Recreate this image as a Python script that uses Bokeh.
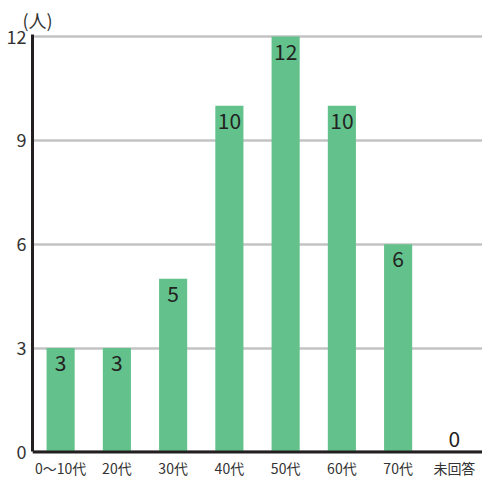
from bokeh.plotting import figure
from bokeh.models import ColumnDataSource, Range1d, FactorRange, Span, FixedTicker
from bokeh.core.properties import value
from bokeh.embed import file_html
from bokeh.resources import INLINE

categories = ["0〜10代", "20代", "30代", "40代", "50代", "60代", "70代以上", "未回答"]
tick_labels = ["0〜10代", "20代", "30代", "40代", "50代", "60代", "70代\n以上", "未回答"]
counts = [3, 3, 5, 10, 12, 10, 6, 0]
y_ticks = [0, 3, 6, 9, 12]

FONT = "Noto Sans CJK JP"
GREEN = "#63c28b"

src = ColumnDataSource(dict(cat=categories, n=counts))
pos = ColumnDataSource(dict(cat=[c for c, v in zip(categories, counts) if v > 0],
                            n=[v for v in counts if v > 0],
                            lbl=[str(v) for v in counts if v > 0]))
zero = ColumnDataSource(dict(cat=[c for c, v in zip(categories, counts) if v == 0],
                             n=[v for v in counts if v == 0],
                             lbl=[str(v) for v in counts if v == 0]))
cat_lbl = ColumnDataSource(dict(cat=categories, y=[0] * len(categories), t=tick_labels))

p = figure(width=482, height=486, x_range=FactorRange(*categories, range_padding=0),
           y_range=Range1d(-1.0, 12.06), output_backend="svg", toolbar_location=None,
           min_border_left=32, min_border_right=0, min_border_top=34, min_border_bottom=0,
           title="(人)")
p.outline_line_color = None
p.background_fill_color = "white"
p.border_fill_color = "white"

p.title.text_font = FONT
p.title.text_font_size = "18px"
p.title.text_font_style = "normal"
p.title.text_color = "#333333"
p.title.align = "left"
p.title.offset = -10
p.title.standoff = 3

p.xgrid.grid_line_color = None
p.ygrid.grid_line_color = "#c3c3c5"
p.ygrid.grid_line_width = 2.5
p.ygrid.ticker = FixedTicker(ticks=y_ticks)

p.vbar(x="cat", top="n", width=0.5, source=src, fill_color=GREEN, line_color=None)

p.text(x="cat", y="n", text="lbl", source=pos, text_font=value(FONT), text_font_size="21px",
       text_color="#222222", text_align="center", text_baseline="middle", y_offset=15)
p.text(x="cat", y="n", text="lbl", source=zero, text_font=value(FONT), text_font_size="21px",
       text_color="#222222", text_align="center", text_baseline="middle", y_offset=-13)

# category labels below the baseline
p.text(x="cat", y="y", text="t", source=cat_lbl, text_font=value(FONT), text_font_size="14px",
       text_color="#333333", text_align="center", text_baseline="top", y_offset=6,
       text_line_height=1.3)

# x baseline
p.add_layout(Span(location=0, dimension="width", line_color="#231f20", line_width=3))
p.xaxis.visible = False

p.yaxis.ticker = y_ticks
p.yaxis.bounds = (0, 12.06)
p.yaxis.axis_line_color = "#231f20"
p.yaxis.axis_line_width = 3
p.yaxis.major_tick_line_color = None
p.yaxis.minor_tick_line_color = None
p.yaxis.major_label_text_font = FONT
p.yaxis.major_label_text_font_size = "18px"
p.yaxis.major_label_text_color = "#333333"
p.yaxis.major_label_standoff = 0

open("out.html", "w").write(file_html(p, INLINE))
